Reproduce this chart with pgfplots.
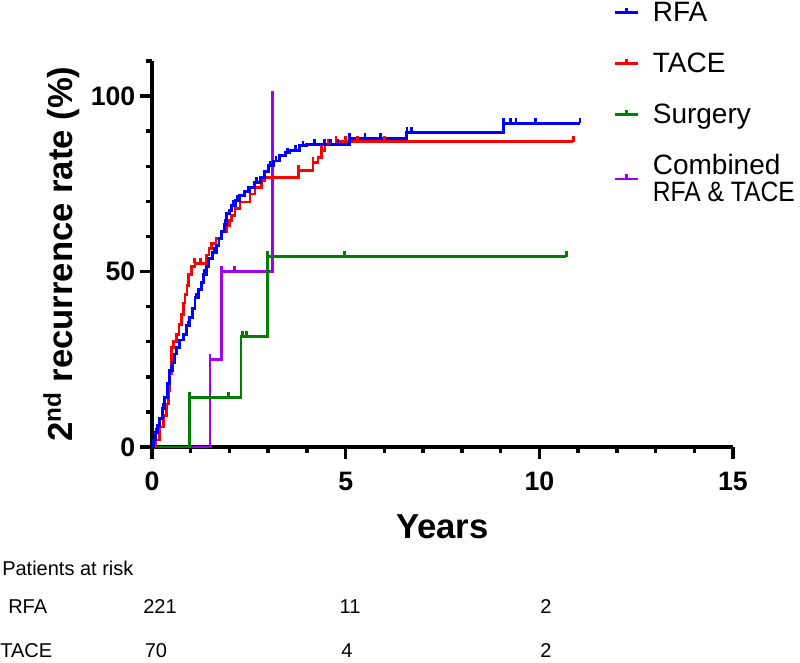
\documentclass[border=0pt]{standalone}
\usepackage{fontspec}
\setmainfont{Liberation Sans}
\usepackage{graphicx}
\usepackage{pgfplots}
\pgfplotsset{compat=1.18}
\definecolor{kmblue}{RGB}{0,0,255}
\definecolor{kmred}{RGB}{255,0,0}
\definecolor{kmgreen}{RGB}{0,128,0}
\definecolor{kmpurple}{RGB}{160,0,240}
\pgfdeclareplotmark{cens}{\pgfpathmoveto{\pgfpoint{0pt}{0pt}}\pgfpathlineto{\pgfpoint{0pt}{4pt}}\pgfusepathqstroke}
\begin{document}
\begin{tikzpicture}
\begin{axis}[name=ax, scale only axis, width=435.75pt, height=289.5pt,
  xmin=0, xmax=15, ymin=0, ymax=110,
  axis lines=left, axis line style={line width=2.6pt, -},
  xtick={0,5,10,15}, minor xtick={1,2,3,4,6,7,8,9,11,12,13,14},
  ytick={0,50,100}, minor ytick={10,20,30,40,60,70,80,90,110},
  tick align=outside, major tick length=9pt, minor tick length=4.5pt,
  every tick/.style={black, line width=2.6pt},
  tick label style={font=\fontsize{20}{22}\selectfont\bfseries},
  xticklabel style={yshift=-6pt},
  /pgf/number format/assume math mode=true,
  xlabel={Years}, ylabel={2\textsuperscript{nd} recurrence rate (\%)},
  every axis x label/.style={at={(rel axis cs:0.5,-0.238)}, anchor=base, font=\fontsize{26}{30}\selectfont\bfseries},
  every axis y label/.style={at={(rel axis cs:-0.136,0.5)}, rotate=90, anchor=base, font=\fontsize{26}{30}\selectfont\bfseries},
  clip=false,
  legend cell align=left,
  legend style={at={(rel axis cs:0.795,1.16)}, anchor=north west, draw=none, fill=none,
    font=\fontsize{21}{20}\selectfont, row sep=18pt, cells={align=left}, inner sep=0pt,
    /tikz/every odd column/.append style={column sep=8pt}},
  legend image code/.code={\draw[#1, line width=2pt] (0pt,0pt) -- (17pt,0pt); \draw[#1, line width=2pt] (8.5pt,0pt) -- (8.5pt,3.5pt);},
]
% Combined RFA & TACE
\addplot[kmpurple, line width=2pt, const plot, forget plot] coordinates {
(0,0) (1.5,25) (1.8,50) (3.11,100)};
\addplot[kmpurple, only marks, mark=cens, mark options={line width=2pt}, forget plot] coordinates {
(1.5,25) (1.8,50) (2.13,50) (3.11,100)};
% Surgery
\addplot[kmgreen, line width=2pt, const plot, forget plot] coordinates {
(0,0) (0.96,14.1) (2.3,31.4) (2.99,54.2) (10.7,54.2)};
\addplot[kmgreen, only marks, mark=cens, mark options={line width=2pt}, forget plot] coordinates {
(0.96,14.1) (1.97,14.1) (2.34,31.4) (2.44,31.4) (2.99,54.2) (4.97,54.2) (10.7,54.2)};
% TACE
\addplot[kmred, line width=2pt, const plot, forget plot] coordinates {
(0,0) (0.1,2) (0.2,5.7) (0.3,9) (0.38,12.3) (0.42,16) (0.46,20.8) (0.51,28.3) (0.55,30) (0.64,32.1) (0.7,35) (0.77,37.8) (0.82,41) (0.85,43.4) (0.9,46) (0.94,49.1) (1.02,51.4) (1.11,52.3) (1.41,54.7) (1.47,56.5) (1.54,58) (1.65,59.5) (1.8,61.3) (1.93,63.2) (2.0,64.5) (2.06,66) (2.14,67.9) (2.27,69.8) (2.53,72.1) (2.66,74) (2.83,75.9) (2.92,76.8) (3.78,78.7) (4.16,81.1) (4.29,82.5) (4.38,84.4) (4.47,86.2) (4.75,87) (10.88,87)};
\addplot[kmred, only marks, mark=cens, mark options={line width=2pt}, forget plot] coordinates {
(1.1,52.3) (1.25,52.3) (3.78,78.7) (4.16,81.1) (4.38,84.4) (4.55,86.2) (4.75,87) (5.0,87) (5.3,87) (6.0,87) (10.88,87)};
% RFA
\addplot[kmblue, line width=2.2pt, const plot, forget plot] coordinates {
(0,0) (0.05,2) (0.1,4) (0.15,6) (0.2,8) (0.27,11) (0.33,14) (0.4,18) (0.46,21.8) (0.52,24) (0.58,26.5) (0.64,28.3) (0.72,30.5) (0.81,32.1) (0.9,34.5) (0.98,36.8) (1.05,39.5) (1.11,42.5) (1.2,45) (1.27,47) (1.33,49.1) (1.4,51.5) (1.45,53.8) (1.55,55.5) (1.67,57.5) (1.73,59.5) (1.8,61.3) (1.86,63.5) (1.93,66.5) (2.0,67.5) (2.06,68.8) (2.15,70.2) (2.27,71.7) (2.4,72.8) (2.53,74) (2.65,75.4) (2.79,76.8) (2.9,78.5) (3.0,80.1) (3.13,81.5) (3.3,83) (3.45,83.8) (3.56,84.4) (3.82,85.8) (4.0,86.2) (5.1,88) (6.58,89.7) (9.07,92.2) (11.05,92.2)};
\addplot[kmblue, only marks, mark=cens, mark options={line width=2pt}, forget plot] coordinates {
(0.1,4) (0.3,11) (0.5,21.8) (0.7,28.3) (0.95,34.5) (1.15,42.5) (1.35,49.1) (1.6,55.5) (1.9,63.5) (2.1,68.8) (2.2,70.2) (2.5,72.8) (2.7,75.4) (3.05,80.1) (3.2,81.5) (3.5,83.8) (3.7,84.4) (3.9,85.8) (4.2,86.2) (4.45,86.2) (4.6,86.2) (4.8,86.2) (5.1,88) (5.5,88) (5.9,88) (6.58,89.7) (6.7,89.7) (9.07,92.2) (9.25,92.2) (9.4,92.2) (9.9,92.2) (11.05,92.2)};
\addlegendimage{kmblue}
\addlegendentry{RFA}
\addlegendimage{kmred}
\addlegendentry{TACE}
\addlegendimage{kmgreen}
\addlegendentry{Surgery}
\addlegendimage{kmpurple}
\addlegendentry{Combined\\\scalebox{0.88}[1]{RFA \& TACE}}
\end{axis}
\begin{scope}[every node/.style={inner sep=0pt, font=\fontsize{15}{18}\selectfont}]
\node[anchor=west] at ([shift={(-112.5pt,-90.75pt)}]ax.south west) {Patients at risk};
\node[anchor=west] at ([shift={(-108pt,-120pt)}]ax.south west) {RFA};
\node[anchor=west] at ([shift={(-114pt,-152.5pt)}]ax.south west) {TACE};
\node at ([shift={(6pt,-120pt)}]ax.south west) {221};
\node at ([shift={(148.5pt,-120pt)}]ax.south west) {11};
\node at ([shift={(295.5pt,-120pt)}]ax.south west) {2};
\node at ([shift={(3pt,-152.5pt)}]ax.south west) {70};
\node at ([shift={(146.25pt,-152.5pt)}]ax.south west) {4};
\node at ([shift={(295.5pt,-152.5pt)}]ax.south west) {2};
\end{scope}
\pgfresetboundingbox
\path[use as bounding box] ([shift={(-114pt,-162pt)}]ax.south west) rectangle ([shift={(50.25pt,45.75pt)}]ax.north east);
\end{tikzpicture}
\end{document}
